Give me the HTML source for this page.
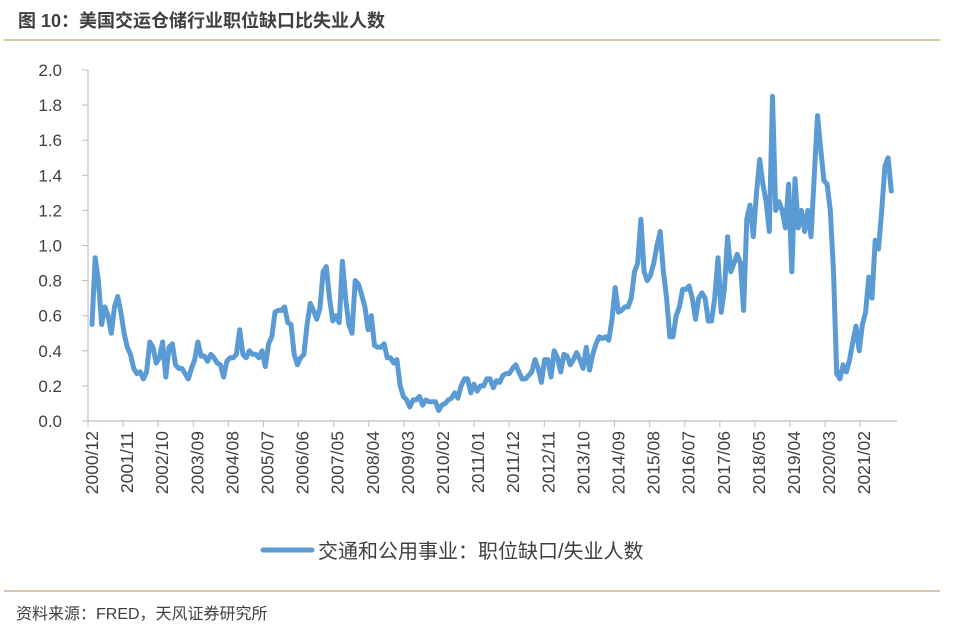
<!DOCTYPE html>
<html><head><meta charset="utf-8"><style>
body{margin:0;background:#fff;}
svg{display:block;font-family:"Liberation Sans","Noto Sans CJK SC",sans-serif;}
</style></head><body>
<svg width="960" height="630" viewBox="0 0 960 630">
<text x="18" y="27" font-size="18" font-weight="bold" fill="#404040">图 10：美国交运仓储行业职位缺口比失业人数</text>
<line x1="4" y1="40" x2="940" y2="40" stroke="#c9b48e" stroke-width="1.5"/>
<g id="axes"></g>
<g id="plot"></g>
<g>
<line x1="263" y1="550" x2="312" y2="550" stroke="#5b9bd5" stroke-width="5" stroke-linecap="round"/>
<text x="318" y="558" font-size="20" fill="#404040">交通和公用事业：职位缺口/失业人数</text>
</g>
<line x1="4" y1="591" x2="940" y2="591" stroke="#c9b48e" stroke-width="1.5"/>
<text x="16" y="619" font-size="16" fill="#404040">资料来源：FRED，天风证券研究所</text>
</svg>
<script>
const startYear=2000, startMonth=12;
const yTicks=[0,0.2,0.4,0.6,0.8,1.0,1.2,1.4,1.6,1.8,2.0];
const values=[0.55,0.93,0.8,0.55,0.65,0.6,0.5,0.65,0.71,0.62,0.5,0.42,0.38,0.3,0.27,0.28,0.24,0.28,0.45,0.42,0.33,0.36,0.45,0.25,0.42,0.44,0.32,0.3,0.3,0.27,0.24,0.3,0.35,0.45,0.37,0.37,0.34,0.38,0.36,0.33,0.32,0.25,0.34,0.36,0.36,0.38,0.52,0.38,0.36,0.4,0.38,0.38,0.36,0.4,0.31,0.44,0.48,0.62,0.63,0.63,0.65,0.56,0.55,0.38,0.32,0.36,0.38,0.55,0.67,0.63,0.58,0.64,0.85,0.88,0.7,0.57,0.6,0.56,0.91,0.7,0.55,0.5,0.8,0.78,0.72,0.65,0.52,0.6,0.43,0.42,0.42,0.44,0.36,0.36,0.33,0.35,0.2,0.14,0.12,0.08,0.12,0.12,0.14,0.09,0.12,0.11,0.11,0.11,0.06,0.09,0.1,0.12,0.13,0.16,0.13,0.2,0.24,0.24,0.16,0.21,0.17,0.2,0.2,0.24,0.24,0.19,0.23,0.22,0.26,0.27,0.27,0.3,0.32,0.28,0.24,0.24,0.26,0.28,0.35,0.3,0.22,0.35,0.35,0.25,0.4,0.36,0.28,0.38,0.37,0.32,0.35,0.39,0.35,0.3,0.42,0.29,0.38,0.44,0.48,0.47,0.48,0.46,0.58,0.76,0.62,0.63,0.65,0.65,0.7,0.85,0.9,1.15,0.85,0.8,0.83,0.9,1.0,1.08,0.85,0.7,0.48,0.48,0.6,0.65,0.75,0.75,0.77,0.7,0.58,0.7,0.73,0.7,0.57,0.57,0.7,0.93,0.62,0.75,1.05,0.85,0.9,0.95,0.9,0.63,1.15,1.23,1.05,1.3,1.49,1.35,1.25,1.08,1.85,1.2,1.25,1.2,1.1,1.35,0.85,1.38,1.1,1.2,1.08,1.2,1.05,1.4,1.74,1.55,1.37,1.35,1.2,0.85,0.27,0.24,0.32,0.28,0.35,0.45,0.54,0.4,0.55,0.62,0.82,0.7,1.03,0.98,1.2,1.45,1.5,1.31];
const labelStep=11, labelCount=23;
const NS="http://www.w3.org/2000/svg";
const x0=88, monthW=3.21, yTop=70, yBot=421, yMax=2.0;
const xs=i=>x0+4+i*monthW;
const ys=v=>yBot-(v/yMax)*(yBot-yTop);
const axes=document.getElementById('axes'), plot=document.getElementById('plot');
function mk(tag,attrs,parent){const e=document.createElementNS(NS,tag);for(const k in attrs)e.setAttribute(k,attrs[k]);parent.appendChild(e);return e;}
const ya=mk('line',{x1:x0,y1:yTop,x2:x0,y2:yBot,stroke:'#bfbfbf','stroke-width':1.2},axes);


const xa=mk('line',{x1:x0,y1:yBot,x2:897,y2:yBot,stroke:'#bfbfbf','stroke-width':1.2},axes);


yTicks.forEach(v=>{
 const t=mk('line',{x1:x0-6,y1:ys(v),x2:x0,y2:ys(v),stroke:'#bfbfbf'},axes);
 
 
 const l=mk('text',{x:62,y:ys(v)+6,'font-size':17,fill:'#404040','text-anchor':'end'},axes);
 l.textContent=v.toFixed(1);
 
 
});
for(let k=0;k<labelCount;k++){
 const m=k*labelStep; const tot=startMonth-1+m;
 const yr=startYear+Math.floor(tot/12), mo=tot%12+1;
 const tx=x0+k*35.1;
 const t=mk('line',{x1:tx,y1:yBot,x2:tx,y2:yBot+6,stroke:'#bfbfbf'},axes);
 
 
 const px=x0+4+k*35.1+6;
 const l=mk('text',{x:px,y:431,'font-size':17.5,fill:'#404040','text-anchor':'end',transform:`rotate(-90 ${px} 431)`},axes);
 l.textContent=yr+'/'+String(mo).padStart(2,'0');
 
 
}
const pl=mk('polyline',{points:values.map((v,i)=>xs(i).toFixed(1)+','+ys(v).toFixed(1)).join(' '),fill:'none',stroke:'#5b9bd5','stroke-width':5,'stroke-linejoin':'round','stroke-linecap':'round'},plot);


</script>
</body></html>
